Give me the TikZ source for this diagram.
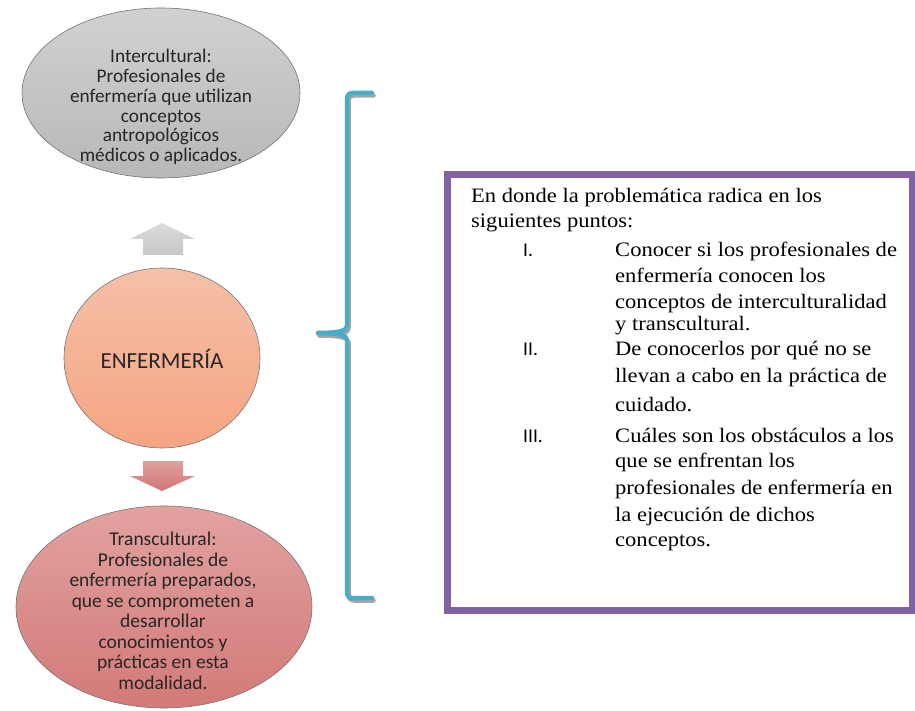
\documentclass[tikz,border=0pt]{standalone}
\usepackage{fontspec}
\usetikzlibrary{shapes.geometric}
\setmainfont{Carlito}
\newfontfamily\boxfont[FakeStretch=1.1]{Liberation Serif}
\newfontfamily\numfont{Carlito}
\begin{document}
\begin{tikzpicture}[x=1pt,y=-1pt,
  ovalbox/.style={ellipse, draw=black!55, line width=0.6pt, inner sep=0pt},
  ovaltext/.style={align=center, font=\fontsize{19.3}{19.8}\selectfont, text=black!85},
  bracepen/.style={line width=4.5pt, line cap=round, line join=round},
  boxline/.style={anchor=base west, inner sep=0pt, font=\boxfont\fontsize{20.5}{22}\selectfont},
  numline/.style={anchor=base west, inner sep=0pt, font=\numfont\fontsize{19.5}{20}\selectfont}
]
\useasboundingbox (0,0) rectangle (915,711);
\definecolor{braceteal}{HTML}{4BACC6}
\definecolor{framepurple}{HTML}{8064A2}

% three ovals
\node[ovalbox, minimum width=278pt, minimum height=170pt,
      top color=black!18, bottom color=black!28] (inter) at (161,93) {};
\node[ovalbox, minimum width=196pt, minimum height=180pt,
      top color={rgb,255:red,245;green,192;blue,168}, bottom color={rgb,255:red,245;green,164;blue,130}] (enf) at (162,358) {};
\node[ovalbox, minimum width=296pt, minimum height=202pt,
      top color={rgb,255:red,226;green,162;blue,160}, bottom color={rgb,255:red,210;green,122;blue,120}] (trans) at (164,607) {};

\node[ovaltext] (intertxt) at (161,107) {Intercultural:\\Profesionales de\\enfermería que utilizan\\conceptos\\antropológicos\\médicos o aplicados.};
\node[font=\fontsize{23}{24}\selectfont, text=black!85] (enftxt) at (162,359) {ENFERMERÍA};
\node[ovaltext, font=\fontsize{19.5}{20.5}\selectfont] (transtxt) at (163,611) {Transcultural:\\Profesionales de\\enfermería preparados,\\que se comprometen a\\desarrollar\\conocimientos y\\prácticas en esta\\modalidad.};

% block arrows between the ovals
\shade[top color=black!14, bottom color=black!22]
  (162,223) -- (195,239) -- (183,239) -- (183,255) -- (143,255) -- (143,239) -- (130,239) -- cycle;
\shade[top color={rgb,255:red,222;green,160;blue,158}, bottom color={rgb,255:red,210;green,118;blue,116}]
  (143,461) -- (183,461) -- (183,476) -- (195,476) -- (162,491) -- (130,476) -- (143,476) -- cycle;

% curly brace with its shadow
\begin{scope}[shift={(1.5,2.5)}]
\draw[bracepen, black!35]
  (372,93) -- (353,93) .. controls (349,93) and (347,95) .. (347,99) -- (347,326)
  .. controls (347,331) and (338,333) .. (318,333);
\draw[bracepen, black!35]
  (318,333) .. controls (338,333) and (347,335) .. (347,340) -- (347,592)
  .. controls (347,596) and (349,598) .. (353,598) -- (372,598);
\end{scope}
\draw[bracepen, braceteal]
  (372,93) -- (353,93) .. controls (349,93) and (347,95) .. (347,99) -- (347,326)
  .. controls (347,331) and (338,333) .. (318,333);
\draw[bracepen, braceteal]
  (318,333) .. controls (338,333) and (347,335) .. (347,340) -- (347,592)
  .. controls (347,596) and (349,598) .. (353,598) -- (372,598);

% framed list
\draw[framepurple, line width=7pt] (447,175) rectangle (912,610);

\node[boxline] (l1) at (471,203) {En donde la problemática radica en los};
\node[boxline] (l2) at (471,228) {siguientes puntos:};
\node[numline] (n1) at (523,257) {I.};
\node[boxline] (a1) at (615,257) {Conocer si los profesionales de};
\node[boxline] (a2) at (615,283) {enfermería conocen los};
\node[boxline] (a3) at (615,308) {conceptos de interculturalidad};
\node[boxline] (a4) at (615,330) {y transcultural.};
\node[numline] (n2) at (523,355) {II.};
\node[boxline] (b1) at (615,355) {De conocerlos por qué no se};
\node[boxline] (b2) at (615,382) {llevan a cabo en la práctica de};
\node[boxline] (b3) at (615,411) {cuidado.};
\node[numline] (n3) at (523,442) {III.};
\node[boxline] (c1) at (615,442) {Cuáles son los obstáculos a los};
\node[boxline] (c2) at (615,467) {que se enfrentan los};
\node[boxline] (c3) at (615,494) {profesionales de enfermería en};
\node[boxline] (c4) at (615,521) {la ejecución de dichos};
\node[boxline] (c5) at (615,546) {conceptos.};
\end{tikzpicture}
\end{document}
